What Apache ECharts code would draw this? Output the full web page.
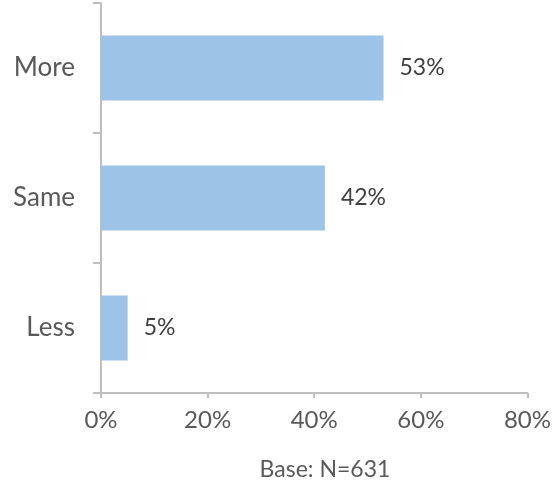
<!DOCTYPE html>
<html><head><meta charset="utf-8">
<script src="https://cdn.jsdelivr.net/npm/echarts@6/dist/echarts.min.js"></script>
<style>html,body{margin:0;padding:0;background:#fff}#c{width:554px;height:481px}</style>
</head><body><div id="c"></div>
<script>
var categories = ['Less', 'Same', 'More'];
var values = [5, 42, 53];
var xTicks = [0, 20, 40, 60, 80];
var baseNote = 'Base: N=631';

var font = 'Lato, "DejaVu Sans", sans-serif';
var chart = echarts.init(document.getElementById('c'));
chart.setOption({
  animation: false,
  grid: {left: 101, right: 24, top: 3, bottom: 88},
  xAxis: {
    type: 'value', min: xTicks[0], max: xTicks[xTicks.length - 1], interval: 20,
    axisLine: {show: true, lineStyle: {color: '#BFBFBF', width: 2}},
    axisTick: {show: true, length: 5, lineStyle: {color: '#BFBFBF', width: 2}},
    splitLine: {show: false},
    axisLabel: {formatter: '{value}%', color: '#595959', fontSize: 24, fontFamily: font, margin: 15}
  },
  yAxis: {
    type: 'category', data: categories,
    axisLine: {show: true, lineStyle: {color: '#BFBFBF', width: 2}},
    axisTick: {show: true, length: 8, lineStyle: {color: '#BFBFBF', width: 2}},
    axisLabel: {color: '#595959', fontSize: 26, fontFamily: font, margin: 26}
  },
  series: [{
    type: 'bar', data: values, barCategoryGap: '50%',
    itemStyle: {color: '#9DC3E6'},
    label: {show: true, position: 'right', distance: 16, formatter: '{c}%', color: '#404040', fontSize: 23, fontFamily: font}
  }],
  graphic: [{
    type: 'text', x: 325, y: 470,
    style: {text: baseNote, fill: '#595959', font: '23px ' + font, textAlign: 'center', textVerticalAlign: 'middle'}
  }]
});
</script></body></html>
